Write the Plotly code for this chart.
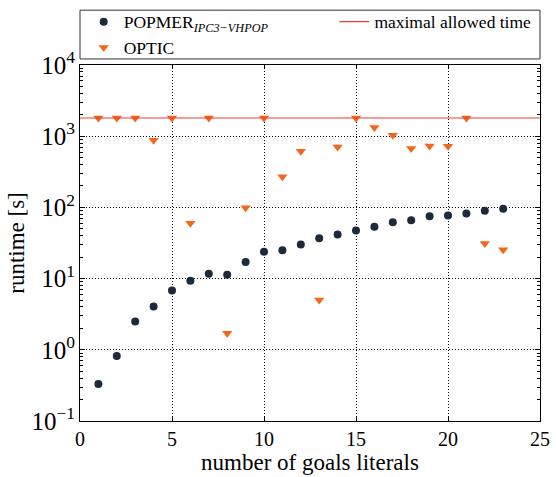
import plotly.graph_objects as go

# Number of goal literals per problem
goals = list(range(1, 24))

# Runtime in seconds for each planner
popmer_runtime = [0.33, 0.82, 2.5, 4.05, 6.8, 9.3, 11.7, 11.3, 17.1, 23.8, 25.1, 30.1,
                  37.0, 41.7, 47.4, 53.4, 62.0, 66.0, 75.0, 77.0, 82.0, 89.5, 95.5]
optic_runtime = [1800, 1800, 1800, 880, 1800, 60, 1800, 1.71, 99, 1800, 270, 617,
                 5.0, 708, 1800, 1325, 1030, 672, 731, 724, 1800, 31, 25.4]

# Timeout limit
max_time = 1800
x_limits = [0, 25]
y_log_limits = [-1, 4]
x_tickvals = [0, 5, 10, 15, 20, 25]

FONT = "Liberation Serif, DejaVu Serif, serif"
NAVY = "#1b2a3c"
ORANGE = "#f4661b"
RED = "#ef3d33"
DOTS = "1px,2px"

fig = go.Figure()
fig.add_trace(go.Scatter(
    x=goals, y=popmer_runtime, mode="markers",
    name="POPMER<sub><i>IPC3−VHPOP</i></sub>",
    marker=dict(symbol="circle", size=8, color=NAVY),
    legend="legend",
))
fig.add_trace(go.Scatter(
    x=goals, y=optic_runtime, mode="markers",
    name="OPTIC",
    marker=dict(symbol="triangle-down", size=9, color=ORANGE),
    legend="legend",
))
fig.add_trace(go.Scatter(
    x=x_limits, y=[max_time, max_time], mode="lines",
    name="maximal allowed time",
    line=dict(color=RED, width=1.2),
    legend="legend2",
))

legend_style = dict(
    orientation="v", yanchor="top", xanchor="left",
    bgcolor="rgba(0,0,0,0)", borderwidth=0,
    font=dict(family=FONT, size=17.5, color="black"),
    tracegroupgap=0,
)

fig.update_layout(
    width=556, height=477,
    margin=dict(l=80, r=16, t=65, b=56, autoexpand=False),
    plot_bgcolor="white", paper_bgcolor="white",
    font=dict(family=FONT, size=18, color="black"),
    legend=dict(x=0.008, y=1.172, **legend_style),
    legend2=dict(x=0.553, y=1.172, **legend_style),
    shapes=[dict(
        type="rect", xref="paper", yref="paper",
        x0=0, x1=1, y0=1.017, y1=1.154,
        line=dict(color="#333333", width=1), fillcolor="rgba(0,0,0,0)",
    )],
)

fig.update_xaxes(
    range=x_limits, tickvals=x_tickvals,
    showline=True, linecolor="black", linewidth=1, mirror="ticks",
    ticks="inside", ticklen=4, tickcolor="black",
    showgrid=True, gridcolor="black", gridwidth=1, griddash=DOTS,
    zeroline=False,
    title=dict(text="number of goals literals", font=dict(size=23), standoff=4),
    tickfont=dict(size=20),
)
fig.update_yaxes(
    type="log", range=y_log_limits,
    tickmode="linear", tick0=0, dtick=1,
    exponentformat="power", showexponent="all",
    labelalias={"1": "10<sup>0</sup>", "10": "10<sup>1</sup>"},
    showline=True, linecolor="black", linewidth=1, mirror="ticks",
    ticks="inside", ticklen=5, tickcolor="black",
    showgrid=True, gridcolor="black", gridwidth=1, griddash=DOTS,
    minor=dict(ticks="inside", ticklen=3, tickcolor="black", dtick="D1",
               showgrid=False),
    zeroline=False,
    title=dict(text="runtime [s]", font=dict(size=23), standoff=0),
    tickfont=dict(size=20),
)

fig.write_html("out.html")
